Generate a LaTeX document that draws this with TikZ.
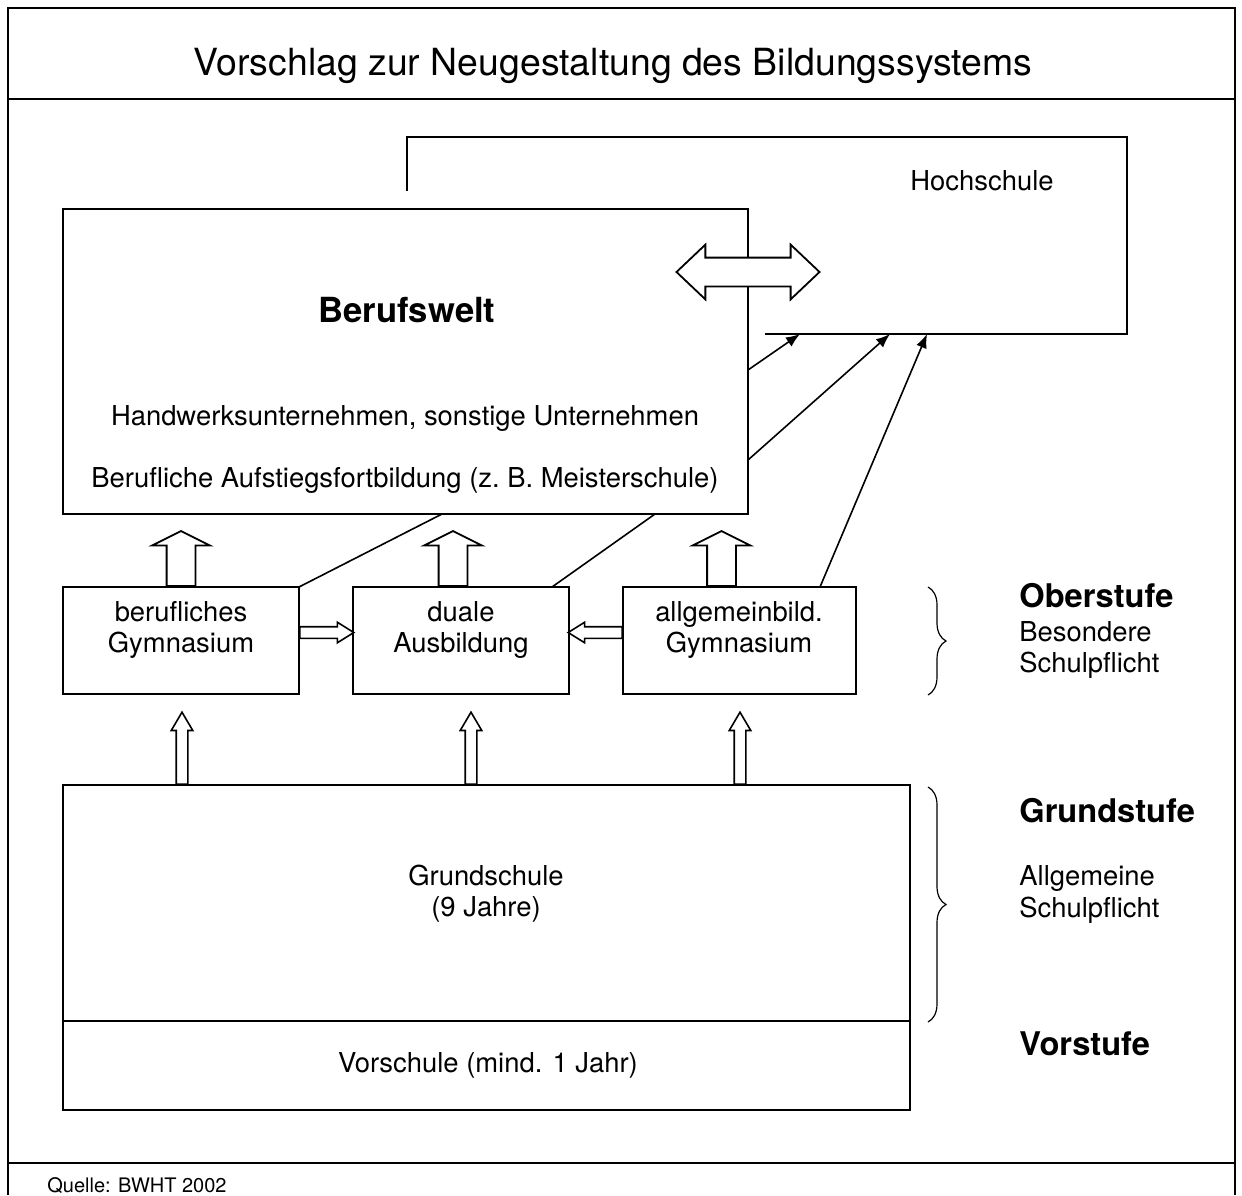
\documentclass[tikz,border=0pt]{standalone}
\usepackage{fontspec}
\setmainfont{TeX Gyre Heros}
\usetikzlibrary{arrows.meta, positioning, calc, shapes.arrows, decorations.pathreplacing}

\tikzset{
  box/.style={draw, line width=0.9pt, fill=white, inner sep=0pt, outer sep=0pt, anchor=north west},
  lbl/.style={font=\fontsize{13.7}{15.5}\selectfont, inner sep=0pt},
  stufe/.style={font=\fontsize{16.3}{18}\selectfont\bfseries, inner sep=0pt, anchor=base west},
  bigup/.style={draw, fill=white, line width=0.9pt, single arrow, inner xsep=0pt, inner ysep=6.75pt,
    single arrow head extend=7.25pt, single arrow tip angle=127,
    minimum width=28pt, minimum height=27.5pt, rotate=90, anchor=tail},
  smallup/.style={draw, fill=white, line width=0.8pt, single arrow, inner xsep=0pt, inner ysep=2.5pt,
    single arrow head extend=2.5pt, single arrow tip angle=61,
    minimum width=10pt, minimum height=36pt, rotate=90, anchor=tail},
  sidearrow/.style={draw, fill=white, line width=0.8pt, single arrow, inner xsep=0pt, inner ysep=2.5pt,
    single arrow head extend=2.25pt, single arrow tip angle=64,
    minimum width=9.5pt, minimum height=27pt, anchor=tail},
  conn/.style={line width=0.8pt, -{Latex[length=7pt, width=5.5pt]}},
  klammer/.style={line width=0.6pt, decorate, decoration={brace, amplitude=9pt}}
}

\begin{document}
\begin{tikzpicture}[x=0.5pt, y=-0.5pt]
  \useasboundingbox (0,0) rectangle (1242,1195);
  % Rahmen
  \draw[line width=0.9pt] (8,1195) -- (8,8) -- (1235,8) -- (1235,1195);
  \draw[line width=0.9pt] (8,99) -- (1235,99);
  \draw[line width=0.9pt] (8,1163) -- (1235,1163);
  \node[font=\fontsize{18.7}{22}\selectfont, inner sep=0pt, anchor=base] (titel) at (613,75)
    {Vorschlag zur Neugestaltung des Bildungssystems};
  \node[font=\fontsize{10}{12}\selectfont, inner sep=0pt, anchor=base west] (quelle) at (47,1192)
    {Quelle: BWHT 2002};

  % Hochschule
  \node[minimum width=360pt, minimum height=98.5pt, inner sep=0pt, outer sep=0pt, anchor=north west] (hoch) at (407,137) {};
  \draw[line width=0.9pt] ($(hoch.south west)+(358,0)$) -| (hoch.north east) -- (hoch.north west)
    -- ($(hoch.north west)+(0,54)$);
  \node[lbl, anchor=base] (hochtxt) at (982,190) {Hochschule};

  % Berufswelt
  \node[box, minimum width=342.5pt, minimum height=152.5pt] (beruf) at (63,209) {};
  \node[font=\fontsize{17.3}{20}\selectfont\bfseries, inner sep=0pt, anchor=base] (beruftxt) at (407,322) {Berufswelt};
  \node[lbl, anchor=base] (handwerk) at (405,425) {Handwerksunternehmen, sonstige Unternehmen};
  \node[lbl, anchor=base] (aufstieg) at (405,487) {Berufliche Aufstiegsfortbildung (z.~B. Meisterschule)};
  \node[draw, fill=white, line width=0.9pt, double arrow, inner xsep=0pt, inner ysep=6.75pt,
    double arrow head extend=6.5pt, double arrow tip angle=87,
    minimum width=26.5pt, minimum height=71.5pt] (wechsel) at ($(beruf.north east)+(0,63)$) {};

  % Oberstufe
  \node[box, minimum width=118pt, minimum height=53.5pt] (bgym) at (63,587) {};
  \node[box, minimum width=108pt, minimum height=53.5pt] (duale) at (353,587) {};
  \node[box, minimum width=116.5pt, minimum height=53.5pt] (agym) at (623,587) {};
  \node[lbl, align=center] (bgymtxt) at (181,630) {berufliches\\Gymnasium};
  \node[lbl, align=center] (dualetxt) at (461,630) {duale\\Ausbildung};
  \node[lbl, align=center] (agymtxt) at (739,630) {allgemeinbild.\\Gymnasium};

  \node[bigup] (bgymup) at (bgym.north) {};
  \node[bigup] (dualeup) at ($(duale.north)+(-8,0)$) {};
  \node[bigup] (agymup) at ($(agym.north)+(-18,0)$) {};
  \node[sidearrow] (bgymrechts) at ($(bgym.east)+(0,-8)$) {};
  \node[sidearrow, rotate=180] (agymlinks) at ($(agym.west)+(0,-8)$) {};

  \draw[line width=0.8pt] (bgym.north east) -- ($(beruf.south west)+(379,0)$);
  \draw[line width=0.8pt] ($(duale.north west)+(199,0)$) -- ($(beruf.south west)+(592,0)$);
  \draw[conn] ($(beruf.north east)+(0,161)$) -- ($(hoch.south west)+(393,0)$);
  \draw[conn] ($(beruf.north east)+(0,251)$) -- ($(hoch.south west)+(483,0)$);
  \draw[conn] ($(agym.north west)+(197,0)$) -- ($(hoch.south west)+(520,0)$);

  % Grundstufe, Vorstufe
  \node[box, minimum width=423.5pt, minimum height=118pt] (grund) at (63,785) {};
  \node[box, minimum width=423.5pt, minimum height=44.5pt] (vor) at (grund.south west) {};
  \node[lbl, align=center] (grundtxt) at (486,894) {Grundschule\\(9 Jahre)};
  \node[lbl, anchor=base] (vortxt) at (488,1072) {Vorschule (mind. 1 Jahr)};

  \node[smallup] (grundup1) at ($(grund.north west)+(119,0)$) {};
  \node[smallup] (grundup2) at ($(grund.north west)+(408,0)$) {};
  \node[smallup] (grundup3) at ($(grund.north west)+(677,0)$) {};

  % Klammern und Stufen
  \draw[klammer] (928,587) -- (928,695);
  \draw[klammer] (928,787) -- (928,1022);
  \node[stufe] (ober) at (1019,607) {Oberstufe};
  \node[lbl, anchor=base west] (ober1) at (1019,641) {Besondere};
  \node[lbl, anchor=base west] (ober2) at (1019,672) {Schulpflicht};
  \node[stufe] (grundst) at (1019,822) {Grundstufe};
  \node[lbl, anchor=base west] (grundst1) at (1019,885) {Allgemeine};
  \node[lbl, anchor=base west] (grundst2) at (1019,917) {Schulpflicht};
  \node[stufe] (vorst) at (1019,1055) {Vorstufe};
\end{tikzpicture}
\end{document}
